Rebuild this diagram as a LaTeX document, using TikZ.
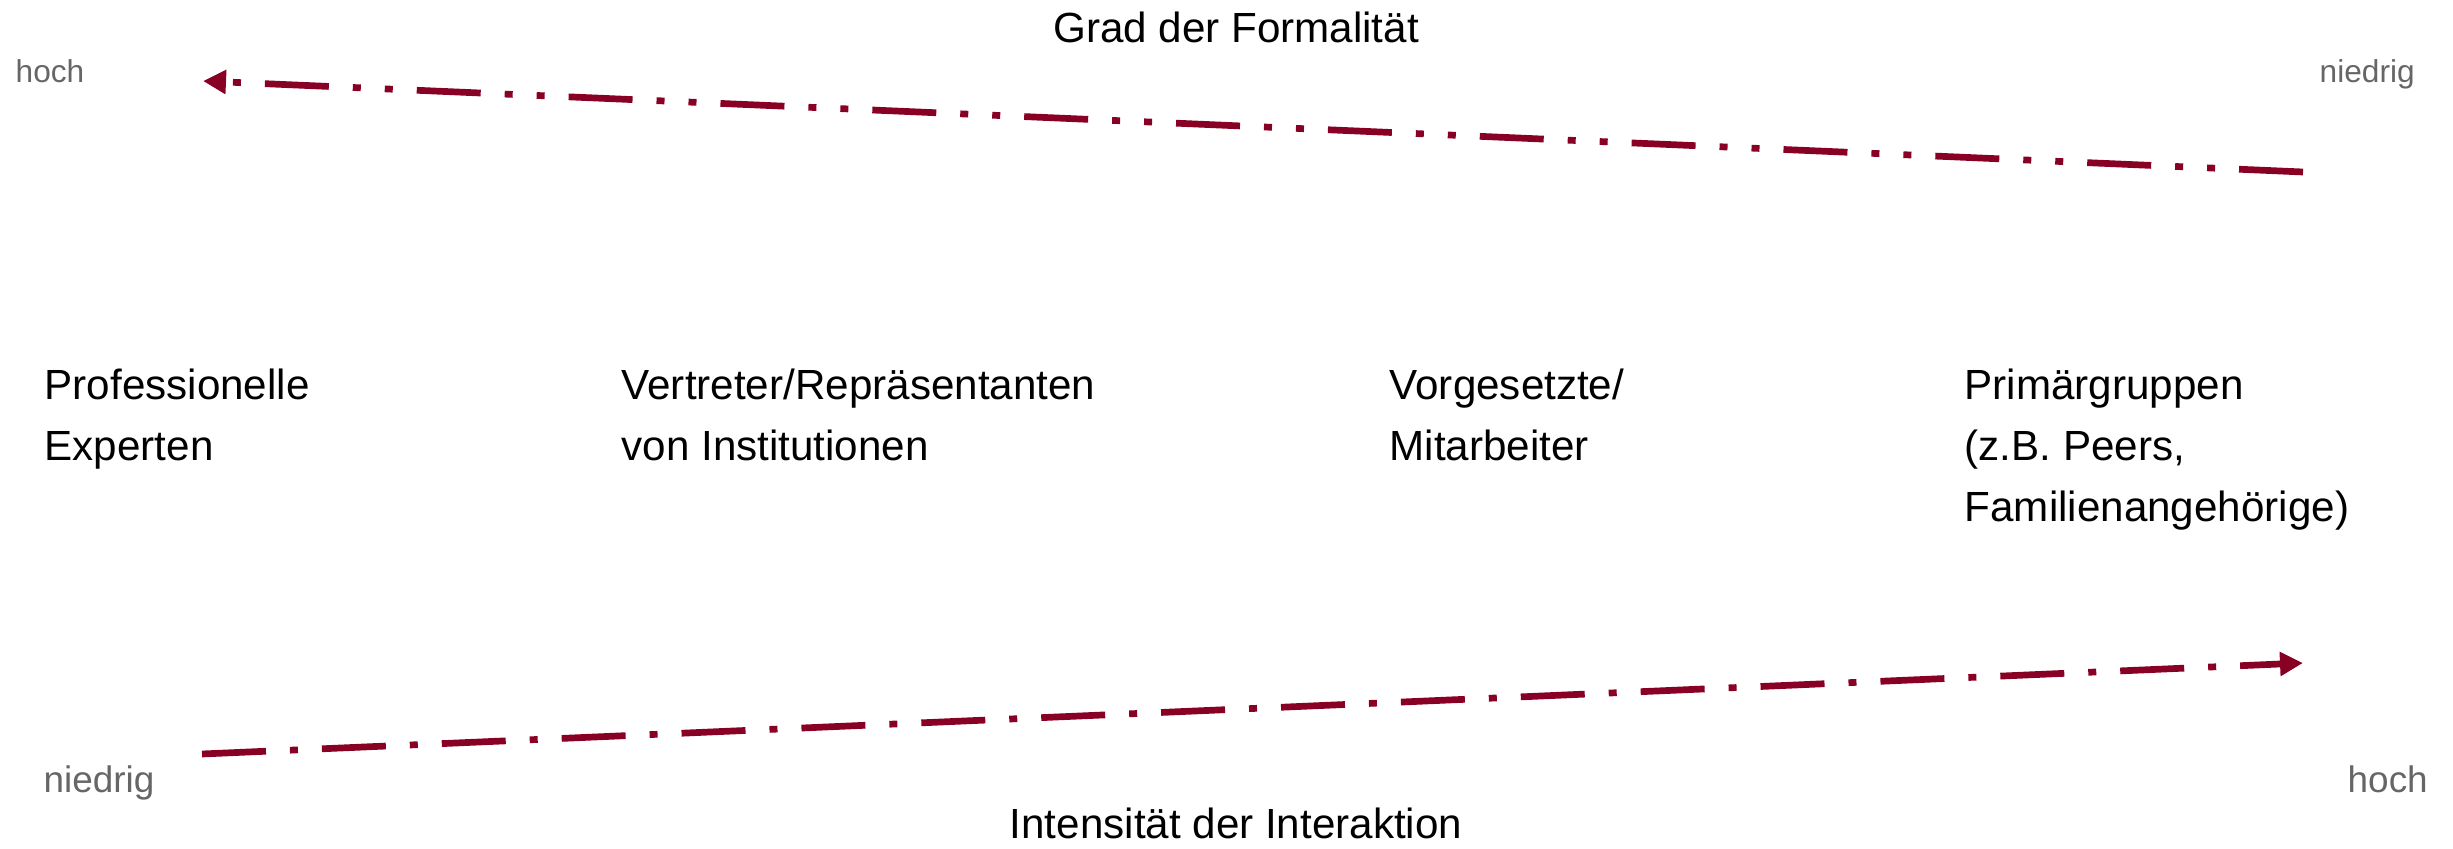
\documentclass[tikz,border=0pt]{standalone}
\usepackage{fontspec}
\setmainfont{Liberation Sans}
\usepackage{tikz}
\usetikzlibrary{arrows.meta}
\definecolor{weinrot}{RGB}{136,0,36}
\definecolor{labelgrau}{RGB}{102,102,102}
\tikzset{
  achse/.style={weinrot, line width=0.067cm, -{Triangle[length=0.23cm, width=0.23cm]}},
  punktpunkt/.style={dash pattern=on 0.64cm off 0.24cm on 0.08cm off 0.24cm on 0.08cm off 0.24cm},
  strichpunkt/.style={dash pattern=on 0.64cm off 0.24cm on 0.08cm off 0.24cm},
  gruppe/.style={anchor=base west, inner sep=0pt, align=left, font=\fontsize{12}{17.3}\selectfont},
  titel/.style={anchor=base, inner sep=0pt, font=\fontsize{12}{14}\selectfont},
  grad/.style={anchor=base west, inner sep=0pt, text=labelgrau}
}
\begin{document}
\begin{tikzpicture}
    \useasboundingbox (0,0) rectangle (24.53,8.48);

    \coordinate (F1) at (23.03,6.76);
    \coordinate (F0) at (2.03,7.67);
    \coordinate (I0) at (2.02,0.94);
    \coordinate (I1) at (23.03,1.85);

    \draw[achse, punktpunkt] (F1) -- (F0);
    \draw[achse, strichpunkt] (I0) -- (I1);

    \node[titel] (formal) at (12.36,8.05) {Grad der Formalität};
    \node[titel] (intens) at (12.36,0.10) {Intensität der Interaktion};

    \node[grad, font=\fontsize{9}{11}\selectfont] (fhoch) at (0.15,7.65) {hoch};
    \node[grad, font=\fontsize{9}{11}\selectfont] (fniedrig) at (23.19,7.65) {niedrig};
    \node[grad, font=\fontsize{10.5}{12}\selectfont] (iniedrig) at (0.43,0.56) {niedrig};
    \node[grad, font=\fontsize{10.5}{12}\selectfont] (ihoch) at (23.47,0.56) {hoch};

    \node[gruppe] (experten) at (0.44,3.88) {Professionelle\\Experten};
    \node[gruppe] (vertreter) at (6.21,3.88) {Vertreter/Repräsentanten\\von Institutionen};
    \node[gruppe] (vorgesetzte) at (13.89,3.88) {Vorgesetzte/\\Mitarbeiter};
    \node[gruppe] (primaer) at (19.64,3.27) {Primärgruppen\\(z.B. Peers,\\Familienangehörige)};
\end{tikzpicture}
\end{document}
